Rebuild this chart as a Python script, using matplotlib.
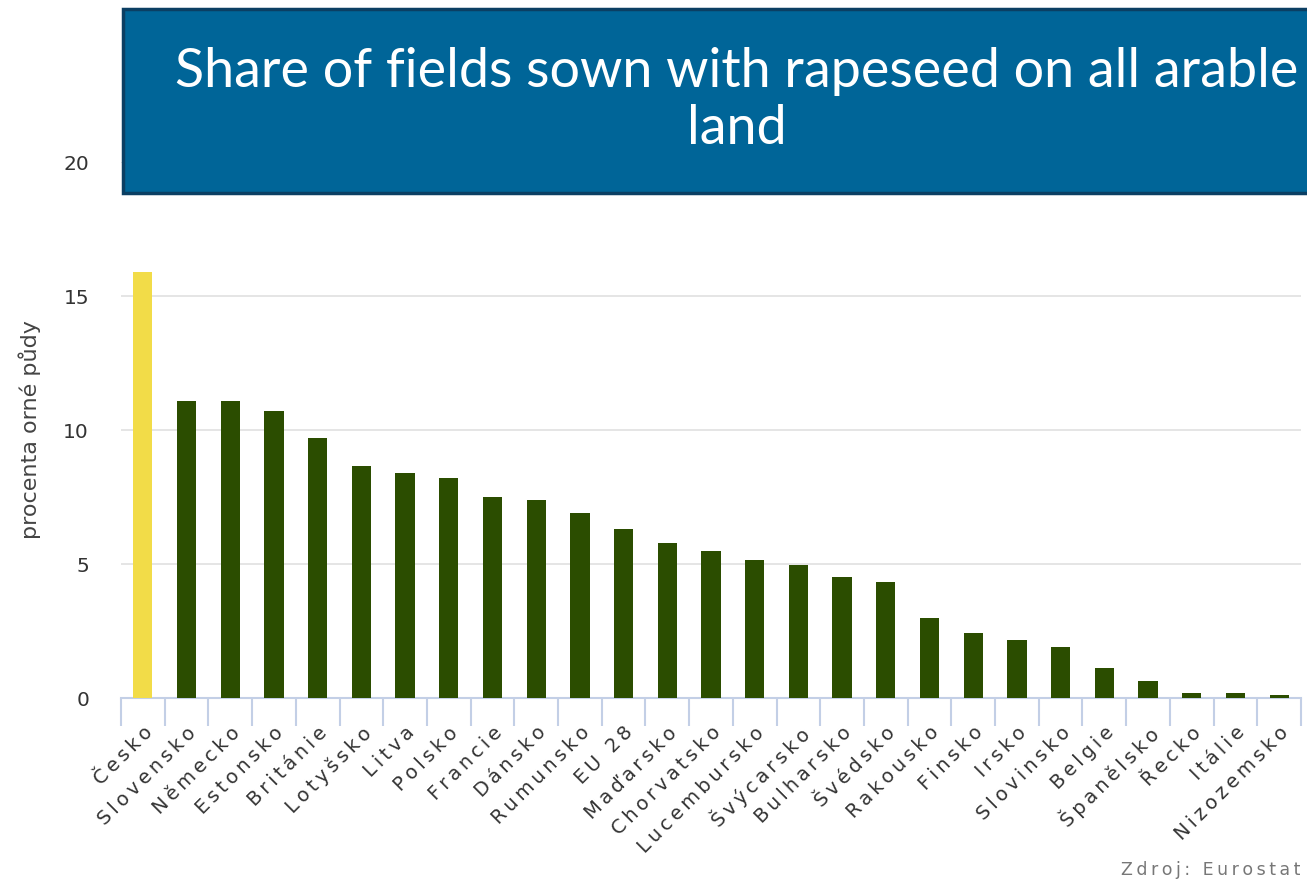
import matplotlib
matplotlib.use("Agg")
import matplotlib.pyplot as plt
from matplotlib.patches import Rectangle
from matplotlib.ticker import FixedLocator, NullFormatter

countries = ["Česko", "Slovensko", "Německo", "Estonsko", "Británie", "Lotyšsko",
             "Litva", "Polsko", "Francie", "Dánsko", "Rumunsko", "EU 28", "Maďarsko",
             "Chorvatsko", "Lucembursko", "Švýcarsko", "Bulharsko", "Švédsko",
             "Rakousko", "Finsko", "Irsko", "Slovinsko", "Belgie", "Španělsko",
             "Řecko", "Itálie", "Nizozemsko"]
share = [15.9, 11.1, 11.1, 10.7, 9.7, 8.65, 8.4, 8.2, 7.5, 7.4, 6.9, 6.3, 5.8,
         5.5, 5.15, 4.95, 4.5, 4.33, 3.0, 2.43, 2.16, 1.9, 1.12, 0.63, 0.19, 0.19, 0.11]
highlight = "Česko"

title = "Share of fields sown with rapeseed on all arable\nland"
ylabel = "procenta orné půdy"
source = "Zdroj: Eurostat"

GREEN = "#2b4d00"
YELLOW = "#f2dc48"
AXIS_BLUE = "#c3cfe6"


def spaced(s):
    # widen letters a bit, like the web chart font
    return "\u2009".join(s)


fig = plt.figure(figsize=(13.07, 8.85), dpi=100)
ax = fig.add_axes([121 / 1307, 1 - 698 / 885, 1180 / 1307, 536 / 885])

x = list(range(len(countries)))
colors = [YELLOW if c == highlight else GREEN for c in countries]
ax.bar(x, share, width=0.44, color=colors, zorder=3)

ax.set_xlim(-0.5, len(countries) - 0.5)
ax.set_ylim(0, 20)
ax.set_yticks([0, 5, 10, 15, 20])
ax.yaxis.grid(True, color="#e3e3e3", linewidth=1.3, zorder=0)
ax.tick_params(axis="y", length=0, pad=23, labelsize=14.5, labelcolor="#333333")
ax.set_ylabel(ylabel, fontsize=16, color="#444444", labelpad=16)

ax.set_xticks(x)
ax.set_xticklabels([spaced(c) for c in countries], rotation=45, ha="right",
                   rotation_mode="anchor", fontsize=14, color="#333333")
ax.tick_params(axis="x", length=0, pad=18)
ax.xaxis.set_minor_locator(FixedLocator([i - 0.5 for i in range(len(countries) + 1)]))
ax.xaxis.set_minor_formatter(NullFormatter())
ax.tick_params(axis="x", which="minor", length=20, width=1.5, color=AXIS_BLUE)

for side in ["top", "right", "left"]:
    ax.spines[side].set_visible(False)
ax.spines["bottom"].set_color(AXIS_BLUE)
ax.spines["bottom"].set_linewidth(1.5)

# title banner, running off the right edge
box_l, box_r = 123 / 1307, 1360 / 1307
box_b, box_t = 1 - 193 / 885, 1 - 9 / 885
fig.patches.append(Rectangle((box_l, box_b), box_r - box_l, box_t - box_b,
                             transform=fig.transFigure, facecolor="#006598",
                             edgecolor="#0b3f63", linewidth=2.5, zorder=5))
fig.text(737 / 1307, 1 - 100 / 885, title, ha="center", va="center",
         color="white", fontsize=38.8, family="Lato", linespacing=1.2, zorder=6)

fig.text(1300 / 1307, 1 - 870 / 885, spaced(source), ha="right", va="center",
         fontsize=12.5, color="#777777")

fig.savefig("out.png", dpi=100)
